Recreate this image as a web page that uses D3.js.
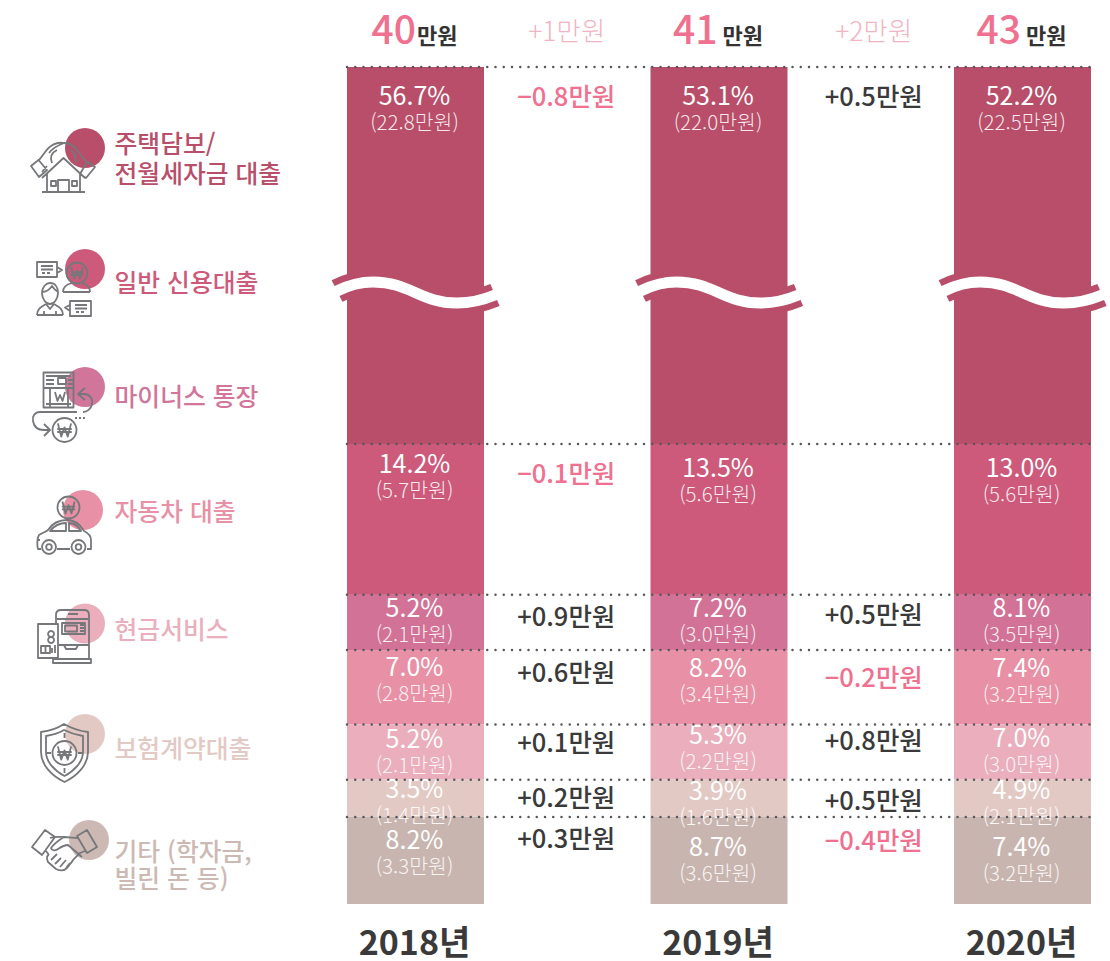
<!DOCTYPE html>
<html lang="ko"><head><meta charset="utf-8">
<script src="https://cdn.jsdelivr.net/npm/d3@7"></script>
<style>html,body{margin:0;padding:0;background:#fff}svg{display:block}
text{font-family:"Noto Sans CJK KR","Noto Sans",sans-serif}</style></head><body>
<svg id="c" width="1110" height="961"></svg>
<script>
// ---------- data ----------
const years = ["2018년", "2019년", "2020년"];
const totals = ["40", "41", "43"];
const totalChange = ["+1만원", "+2만원"];
const categories = ["주택담보/ 전월세자금 대출", "일반 신용대출", "마이너스 통장", "자동차 대출", "현금서비스", "보험계약대출", "기타 (학자금, 빌린 돈 등)"];
const shares2018 = [56.7, 14.2, 5.2, 7.0, 5.2, 3.5, 8.2];
const shares2019 = [53.1, 13.5, 7.2, 8.2, 5.3, 3.9, 8.7];
const shares2020 = [52.2, 13.0, 8.1, 7.4, 7.0, 4.9, 7.4];
const amounts2018 = [22.8, 5.7, 2.1, 2.8, 2.1, 1.4, 3.3];
const amounts2019 = [22.0, 5.6, 3.0, 3.4, 2.2, 1.6, 3.6];
const amounts2020 = [22.5, 5.6, 3.5, 3.2, 3.0, 2.1, 3.2];
const delta1819 = ["−0.8", "−0.1", "+0.9", "+0.6", "+0.1", "+0.2", "+0.3"];
const delta1920 = ["+0.5", null, "+0.5", "−0.2", "+0.8", "+0.5", "−0.4"];

// ---------- styles / layout ----------
const colors = ["#B84E69", "#CD5A7B", "#D27296", "#E890A5", "#EAAEBC", "#E3C9C4", "#C9B5AF"];
const pink = "#F0708F", dark = "#3A3A3A", iconGrey = "#76777B";
const svg = d3.select("#c");
const barW = 137;
const x = d3.scalePoint().domain(years).range([415.5, 1022.5]);
const xMid = i => (x(years[i]) + x(years[i + 1])) / 2 - 2;

// Stack follows the 2018 shares in every column; the top segment is cut by the axis break.
const below = d3.sum(shares2018.slice(1));
const y = d3.scaleLinear().domain([0, below, 100]).range([904, 444, 67]);
const edges = shares2018.map((_, i) => y(100 - d3.sum(shares2018.slice(0, i))));
edges.push(y(0));

const allShares = [shares2018, shares2019, shares2020];
const allAmounts = [amounts2018, amounts2019, amounts2020];
// text centre lines per column (picture layout)
const labelYs = [
  [96.5, 464.5, 608.5, 667.5, 739.5, 789.5, 840.5],
  [96.5, 468.5, 608.5, 668.5, 735.5, 791.5, 847.5],
  [96.5, 468.5, 608.5, 668.5, 738.5, 790.5, 847.5]];
const deltaYs = [
  [97, 474, 617, 673, 743, 798, 839],
  [97, 474, 615, 678, 741, 801, 841]];

// ---------- bars ----------
years.forEach((yr, c) => {
  svg.append("g").selectAll("rect").data(allShares[c]).join("rect")
    .attr("x", x(yr) - barW / 2).attr("width", barW)
    .attr("y", (d, i) => edges[i]).attr("height", (d, i) => edges[i + 1] - edges[i])
    .attr("fill", (d, i) => colors[i]);
});

// ---------- axis break ----------
const wave = "M337,291C349,285 360,282 373,282C410,282 420,303 457,303C470,303 483,300 495,295";
years.forEach((yr, c) => {
  const g = svg.append("g").attr("transform", `translate(${x(yr) - x(years[0])},0)`);
  g.append("path").attr("d", wave).attr("fill", "none").attr("stroke", colors[0]).attr("stroke-width", 24);
  g.append("path").attr("d", wave).attr("fill", "none").attr("stroke", "#fff").attr("stroke-width", 11).attr("stroke-linecap", "square");
});

// ---------- bar labels ----------
years.forEach((yr, c) => {
  const g = svg.append("g").attr("text-anchor", "middle").attr("fill", "#fff");
  g.selectAll("text.p").data(allShares[c]).join("text").attr("class", "p")
    .attr("x", x(yr) - 1).attr("y", (d, i) => labelYs[c][i]).attr("dy", "0.35em")
    .attr("font-size", 25).attr("font-weight", 400)
    .text(d => d.toFixed(1) + "%");
  g.selectAll("text.a").data(allAmounts[c]).join("text").attr("class", "a")
    .attr("x", x(yr) - 1).attr("y", (d, i) => labelYs[c][i] + 26).attr("dy", "0.35em")
    .attr("font-size", 20.5).attr("font-weight", 300).attr("fill-opacity", .88)
    .text(d => "(" + d.toFixed(1) + "만원)");
});

// ---------- dotted separators ----------
edges.slice(0, 7).forEach(e => {
  svg.append("line").attr("x1", 347).attr("x2", 1092).attr("y1", e).attr("y2", e)
    .attr("stroke", "#55565a").attr("stroke-width", 2.5).attr("stroke-linecap", "round")
    .attr("stroke-dasharray", "0 8.25");
});

// ---------- delta columns ----------
[delta1819, delta1920].forEach((arr, c) => {
  svg.append("g").attr("text-anchor", "middle").selectAll("text").data(arr).join("text")
    .attr("x", xMid(c) + (c ? 5 : 1)).attr("y", (d, i) => deltaYs[c][i]).attr("dy", "0.35em")
    .attr("font-size", 25.5).attr("font-weight", 500)
    .attr("fill", d => d && d[0] === "−" ? pink : dark)
    .text(d => d ? d + "만원" : "");
});

// ---------- totals ----------
totals.forEach((t, c) => {
  const tx = svg.append("text").attr("x", x(years[c]) - 1).attr("y", 43.5).attr("text-anchor", "middle");
  tx.append("tspan").attr("font-size", 39).attr("font-weight", 500).attr("fill", pink).text(t);
  tx.append("tspan").attr("font-size", 22).attr("font-weight", 700).attr("fill", "#333").attr("dx", c === 0 ? 1 : 5).text("만원");
});
totalChange.forEach((t, c) => {
  svg.append("text").attr("x", xMid(c) + (c ? 5 : 1.5)).attr("y", 32).attr("dy", "0.35em").attr("text-anchor", "middle")
    .attr("font-size", 26.5).attr("font-weight", 300).attr("fill", "#F2B3C2").text(t);
});

// ---------- year labels ----------
svg.append("g").attr("text-anchor", "middle").selectAll("text").data(years).join("text")
  .attr("x", d => x(d) - 1).attr("y", 955).attr("font-size", 34).attr("font-weight", 700).attr("fill", "#3A3A3A").text(d => d);

// ---------- legend ----------
const legendLines = [["주택담보/", "전월세자금 대출"], ["일반 신용대출"], ["마이너스 통장"], ["자동차 대출"], ["현금서비스"], ["보험계약대출"], ["기타 (학자금,", "빌린 돈 등)"]];
const legendY = [144, 283, 397, 512, 630, 749, 852];
const legendColors = ["#B84E69", "#CD5A7B", "#D2759A", "#E890A5", "#EAAEBC", "#E3C9C4", "#CDB9B4"];
legendLines.forEach((ls, i) => {
  svg.append("g").selectAll("text").data(ls).join("text")
    .attr("x", 114.5).attr("y", (d, j) => legendY[i] + j * (i === 0 ? 30 : 27)).attr("dy", "0.35em")
    .attr("font-size", 24.8).attr("font-weight", 500).attr("fill", legendColors[i]).text(d => d);
});

// ---------- icons ----------
const circles = [[85, 148], [85, 269], [85, 387], [83, 510], [85, 623.5], [85, 734], [89, 840]];
svg.append("g").selectAll("circle").data(circles).join("circle")
  .attr("cx", d => d[0]).attr("cy", d => d[1]).attr("r", 20).attr("fill", (d, i) => legendColors[i]);

const ring = (cx, cy, r) => `M${cx - r},${cy}a${r},${r} 0 1,0 ${2 * r},0a${r},${r} 0 1,0 ${-2 * r},0`;
const won = (cx, cy, r) => {
  const k = r * 0.55;
  const w = `M${cx - k},${cy - k}L${cx - k / 2},${cy + k}L${cx},${cy - k * .4}L${cx + k / 2},${cy + k}L${cx + k},${cy - k}M${cx - k * 1.1},${cy - k * .15}H${cx + k * 1.1}M${cx - k * 1.1},${cy + k * .3}H${cx + k * 1.1}`;
  return ring(cx, cy, r) + w;
};
const rect = (a, b, w, h) => `M${a},${b}h${w}v${h}h${-w}Z`;
const icons = [
  // house in hands
  "M42,178L63.5,158L85,178M47,174V192M80,174V192M42,192H85M58,192V180H69V192" + rect(51, 181, 5, 5) + rect(72, 181, 5, 5) +
  "M31,166L38.5,160L47,170L39,177ZM39,160C43,156 46,149 51,146C55,143 61,142 64,143C70,143 74,146 78,151C82,157 84,160 88,163M42,172L47,166M52,163C50,158 51,153 57,150M64,143C56,146 52,149 49,153M95,167L87,162L80,174L86,178ZM76,162C76,158 75,154 71,150",
  // two people
  rect(37, 262, 20, 15) + "M57,267L62,270L57,273M41,266H53M41,269.5H53M42,273H45M47,273H50" + won(77, 273, 10.5) +
  "M63,292C63,286 68,284 72,283M90,292C90,286 86,284 82,283M63,292H90" +
  "M42,293C42,287 46,283 50,283C55,283 58,287 58,293C58,299 54,304 50,304C46,304 42,299 42,293ZM42,292C46,292 50,289 52,286C54,289 56,291 58,292M37,315C37,309 41,307 46,304M63,315C63,309 59,307 54,304M37,315H63M44,315V311M56,315V311M46,304L50,309L54,304" +
  rect(70, 301, 21, 15) + "M70,305L65,307.5L70,311M75,305H87M75,308.5H87M76,312H79M81,312H84",
  // passbook and arrows
  rect(43.5, 372.5, 30, 35) + "M46,376H71M43.5,388H73.5M46,380H54M46,384H54M58,378H66V384H58ZM68,380H73M68,384H73M50,388V407M68,388V407M46,404H71" +
  "M55,392L57.5,401L60,395L62.5,401L65,392" +
  "M85,388L78,394L85,400M78,394H84C90,394 93,399 92,404C91,409 87,412 83,412M77,412H40C35,412 32,416 33,421C34,427 38,430 44,430H50M44,424L50,430L44,436" + won(64.5, 430, 12) + "M75,418H77M79,418H81M83,418H85",
  // car and coin
  won(68.5, 507.5, 11) +
  "M41,549H38C37,546 37,538 39,535C42,533 46,532 48,530C52,524 58,520 67,520C75,520 80,524 84,531C88,533 91,535 91,540V549H87M70,549H57M50,531C54,526 60,523 66,523V531ZM69,523C74,523 78,526 81,531H69ZM37,540H40" + ring(49, 547, 7) + ring(49, 547, 2.8) + ring(78.5, 547, 7) + ring(78.5, 547, 2.8),
  // ATM and card
  "M56,624V615C56,612 58,610 61,610H84C87,610 89,612 89,615V659M57,619H88M68,614H78M53,659H91V663H53ZM58,658V645H89" +
  rect(62, 623, 23, 11) + rect(65, 625.5, 12, 6) + "M80,625H84M80,628H84M80,631H84M64,645L66,649H76L78,645" +
  "M38,624H58V658H38ZM51,631a3,3 0 1,0 0.1,0M51,637a3,3 0 1,0 0.1,0" + rect(41, 646, 9, 7) + "M45.5,646V653M52,653V648M55,653V645",
  // shield
  "M41,732C50,731 58,728 64,724C71,728 79,731 88,732V752C88,765 77,776 64.5,782C52,776 41,765 41,752ZM46,736C52,735 59,733 64,730C70,733 77,735 83,736V752C83,762 74,771 64.5,776C55,771 46,762 46,752Z" + won(64.5, 753, 12) + "M64.5,733V738M64.5,768V773M46,753H51M78,753H83",
  // handshake
  "M32,847L45,830L55,837L42,855ZM77,836L87,830L97,847L87,853ZM50,838C56,836 60,837 64,837C69,837 74,838 78,838M46,851L49,855M85,851L80,853C76,857 73,859 71,863L67,868C64,871 60,871 56,869L48,862C46,858 47,855 49,855M64,837C59,840 54,844 51,848C52,851 55,851 58,849C61,847 64,845 68,845L82,857M51,860L57,854M55,864L61,858M60,867L66,860M66,868L70,863"
];
svg.append("g").attr("fill", "none").attr("stroke", iconGrey).attr("stroke-width", 1.8).attr("stroke-linejoin", "round")
  .selectAll("path").data(icons).join("path").attr("d", d => d);
</script></body></html>
